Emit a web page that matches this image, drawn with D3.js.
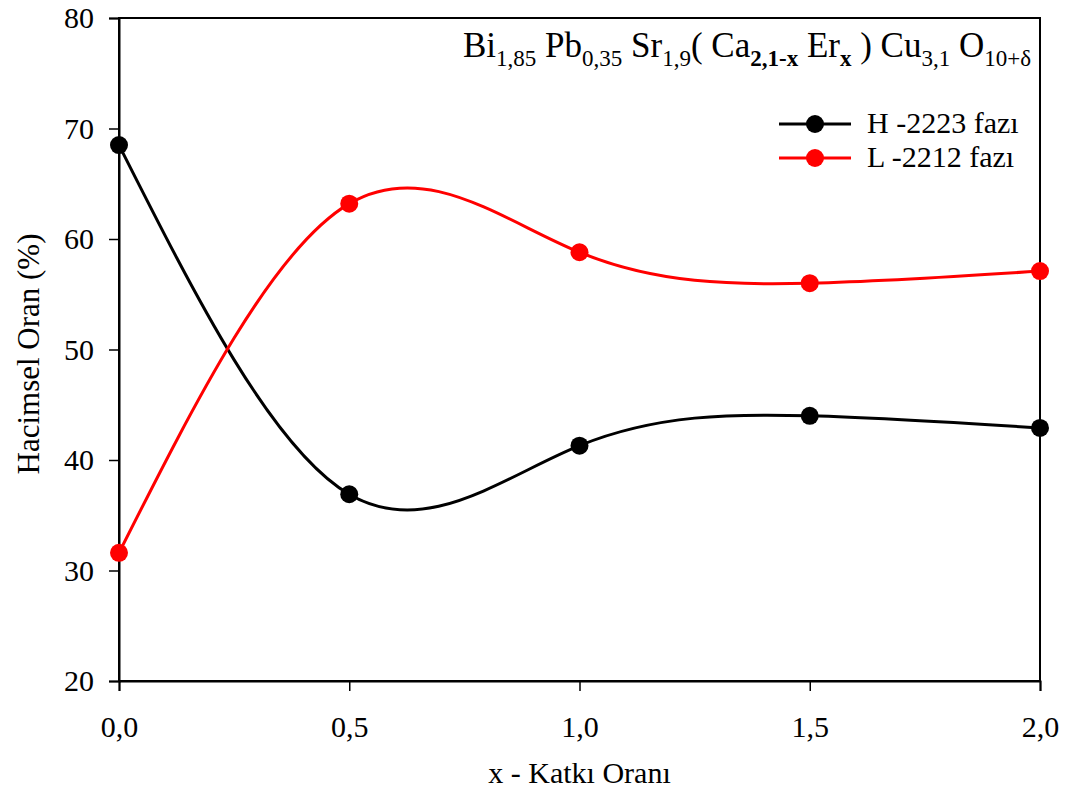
<!DOCTYPE html>
<html>
<head>
<meta charset="utf-8">
<script src="https://cdn.jsdelivr.net/npm/d3@7"></script>
<style>
  body { margin: 0; background: #fff; }
  svg { display: block; }
  svg text { font-family: "Liberation Serif", "Times New Roman", serif; fill: #000; }
</style>
</head>
<body>
<svg id="chart" width="1071" height="791"></svg>
<script>
// Er doping level x and phase volume fractions (%)
const xValues = [0.0, 0.5, 1.0, 1.5, 2.0];
const phaseH = [68.5, 36.9, 41.3, 44.0, 42.9];   // H-2223
const phaseL = [31.6, 63.2, 58.8, 56.0, 57.1];   // L-2212
const xTicks = [0.0, 0.5, 1.0, 1.5, 2.0];
const yTicks = [20, 30, 40, 50, 60, 70, 80];
const seriesNames = ["H -2223 fazı", "L -2212 fazı"];
const seriesColors = ["#000000", "#ff0000"];

const svg = d3.select("#chart");
const margin = { left: 119, right: 31, top: 18, bottom: 110 };
const W = 1071, H = 791;
const x = d3.scaleLinear().domain([0, 2]).range([margin.left, W - margin.right]);
const y = d3.scaleLinear().domain([20, 80]).range([H - margin.bottom, margin.top]);

const fmt = d => d3.format(".1f")(d).replace(".", ",");

// frame
svg.append("rect")
  .attr("x", x(0)).attr("y", y(80))
  .attr("width", x(2) - x(0)).attr("height", y(20) - y(80))
  .attr("fill", "none").attr("stroke", "#000").attr("stroke-width", 2);

// bottom axis
const xAxis = svg.append("g")
  .attr("transform", `translate(0,${y(20)})`)
  .call(d3.axisBottom(x).tickValues(xTicks).tickFormat(fmt).tickSizeOuter(0).tickSize(10).tickPadding(25));
// left axis
const yAxis = svg.append("g")
  .attr("transform", `translate(${x(0)},0)`)
  .call(d3.axisLeft(y).tickValues(yTicks).tickSizeOuter(0).tickSize(10).tickPadding(15));

[xAxis, yAxis].forEach(g => {
  g.attr("font-family", null).attr("font-size", null);
  g.select(".domain").attr("stroke", "#000").attr("stroke-width", 2);
  g.selectAll(".tick line").attr("stroke", "#000").attr("stroke-width", 1.5);
  g.selectAll(".tick text").attr("fill", "#000").style("font-size", "30px");
});

// axis titles
svg.append("text")
  .attr("x", (x(0) + x(2)) / 2).attr("y", 783)
  .attr("text-anchor", "middle").style("font-size", "30px")
  .text("x - Katkı Oranı");
svg.append("text")
  .attr("transform", `translate(39,354) rotate(-90)`)
  .attr("text-anchor", "middle").style("font-size", "31px")
  .text("Hacimsel Oran (%)");

// series
const line = d3.line().curve(d3.curveNatural).x(d => x(d[0])).y(d => y(d[1]));
[phaseH, phaseL].forEach((vals, i) => {
  const pts = xValues.map((v, j) => [v, vals[j]]);
  svg.append("path").datum(pts)
    .attr("d", line).attr("fill", "none")
    .attr("stroke", seriesColors[i]).attr("stroke-width", 3);
  svg.selectAll(null).data(pts).enter().append("circle")
    .attr("cx", d => x(d[0])).attr("cy", d => y(d[1])).attr("r", 9)
    .attr("fill", seriesColors[i]);
});

// legend
seriesNames.forEach((name, i) => {
  const ly = 124 + i * 34;
  const g = svg.append("g");
  g.append("line").attr("x1", 779).attr("x2", 851).attr("y1", ly).attr("y2", ly)
    .attr("stroke", seriesColors[i]).attr("stroke-width", 3);
  g.append("circle").attr("cx", 815).attr("cy", ly).attr("r", 9).attr("fill", seriesColors[i]);
  g.append("text").attr("x", 867).attr("y", ly + 9).style("font-size", "30px").text(name);
});

// compound formula
const parts = [
  ["Bi", false, false], ["1,85", true, false], [" Pb", false, false], ["0,35", true, false],
  [" Sr", false, false], ["1,9", true, false], ["( Ca", false, false], ["2,1-x", true, true],
  [" Er", false, false], ["x", true, true], [" ) Cu", false, false], ["3,1", true, false],
  [" O", false, false], ["10+δ", true, false]
];
const title = svg.append("text").attr("x", 463).attr("y", 57)
  .style("font-size", "35px").attr("xml:space", "preserve");
let prevSub = false;
parts.forEach(([t, sub, bold]) => {
  const ts = title.append("tspan").text(t);
  if (sub && !prevSub) ts.attr("dy", 9);
  if (!sub && prevSub) ts.attr("dy", -9);
  if (sub) ts.style("font-size", "23px");
  if (bold) ts.style("font-weight", "bold");
  prevSub = sub;
});
</script>
</body>
</html>
